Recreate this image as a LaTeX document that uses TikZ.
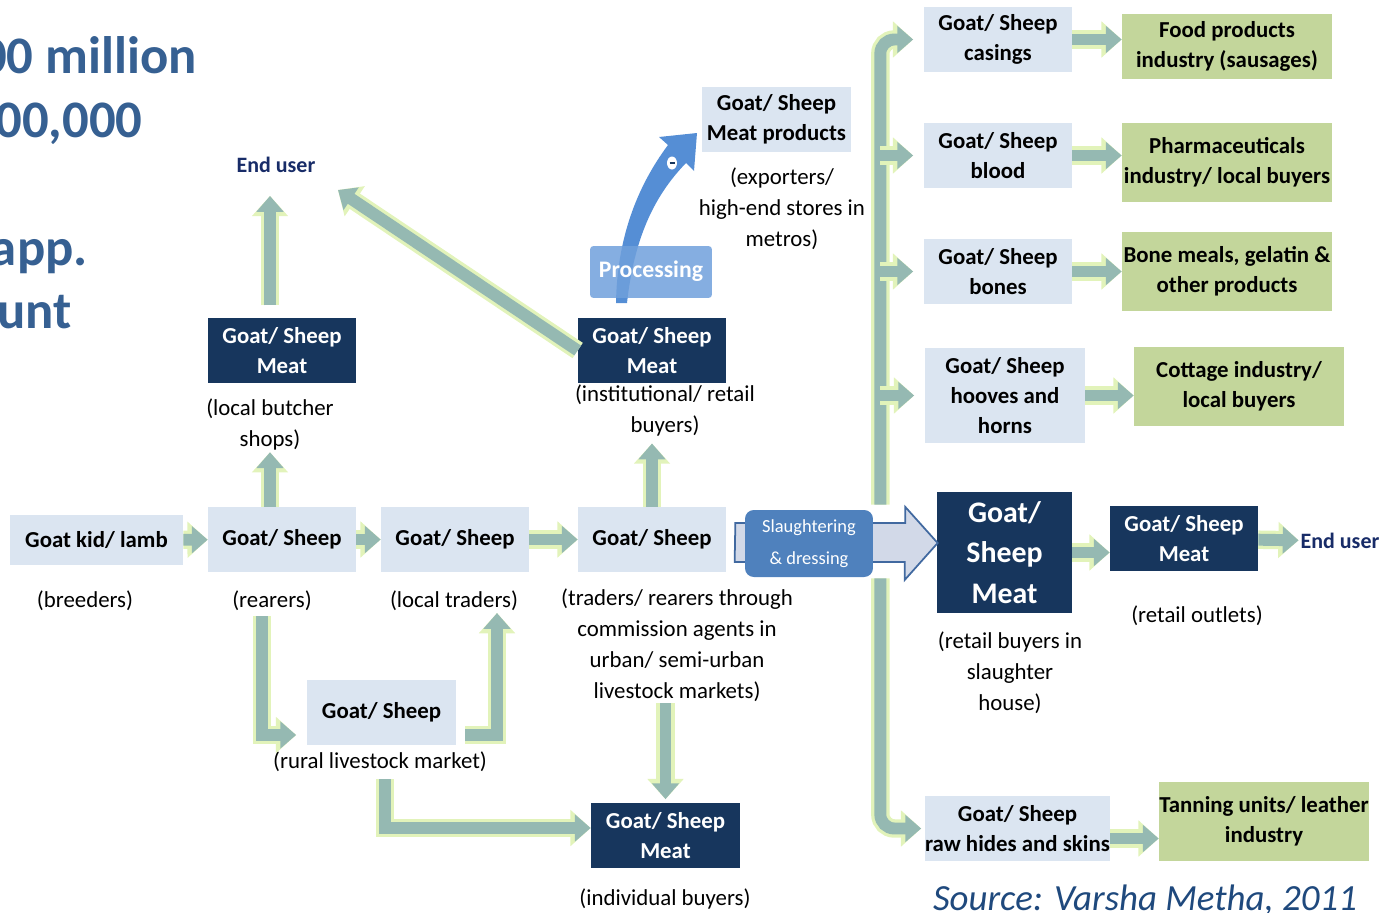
\documentclass[tikz,border=0pt]{standalone}
\usepackage{fontspec}
\setmainfont{Carlito}
\usepackage{tikz}
\usetikzlibrary{arrows.meta, calc, positioning}

\definecolor{boxlight}{RGB}{219,229,241}
\definecolor{boxdark}{RGB}{23,54,93}
\definecolor{boxgreen}{RGB}{195,214,155}
\definecolor{flowteal}{RGB}{149,185,178}
\definecolor{flowglow}{RGB}{226,243,186}
\definecolor{procblue}{RGB}{85,142,213}
\definecolor{proclight}{RGB}{112,160,220}
\definecolor{slaughblue}{RGB}{79,129,189}
\definecolor{blockfill}{RGB}{210,217,232}
\definecolor{blockline}{RGB}{65,105,160}
\definecolor{usernavy}{RGB}{24,44,104}
\definecolor{figblue}{RGB}{54,96,146}
\definecolor{srcblue}{RGB}{31,73,125}

\newcommand{\boxfont}{\fontsize{13pt}{17pt}\selectfont\bfseries}
\newcommand{\notefont}{\fontsize{13pt}{17.6pt}\selectfont}

\tikzstyle{lightbox} = [
	rectangle,
	fill=boxlight,
	align=center,
	inner sep=0pt,
	font=\boxfont,
	minimum width=2.96cm,
	minimum height=1.3cm
]
\tikzstyle{darkbox} = [lightbox, fill=boxdark, text=white]
\tikzstyle{greenbox} = [lightbox, fill=boxgreen, minimum width=4.2cm, minimum height=1.58cm]
\tikzstyle{note} = [align=center, inner sep=1pt, font=\notefont]
\tikzstyle{enduser} = [inner sep=1pt, text=usernavy, font=\fontsize{12.5pt}{15pt}\selectfont\bfseries]
\tikzstyle{bignum} = [anchor=base east, inner sep=0pt, text=figblue, font=\fontsize{30pt}{36pt}\selectfont\bfseries]
\tikzstyle{bigarrow} = [fill=blockfill, draw=blockline, line width=1pt, line join=miter]
\tikzstyle{arrow} = [
	draw=flowteal,
	line width=6.8pt,
	-{Triangle[width=15pt,length=9pt]},
	preaction={draw=flowglow, line width=10.5pt, -{Triangle[width=20pt,length=11.5pt]}}
]

\begin{document}
\begin{tikzpicture}[x=0.02cm, y=-0.02cm]
            \useasboundingbox (0,0) rectangle (1387,913);
            \clip (0,0) rectangle (1387,913);
            % slide text left of the chart
            \node (fig1) [bignum] at (197,73) {00 million};
            \node (fig2) [bignum] at (143,137) {00,000};
            \node (fig3) [bignum] at (88,265) {app.};
            \node (fig4) [bignum] at (72,328) {unt};
            % live animal chain
            \node (kid) [lightbox, minimum width=3.46cm, minimum height=1cm] at (96.5,540) {Goat kid/ lamb};
            \node (rear) [lightbox] at (282,539.5) {Goat/ Sheep};
            \node (local) [lightbox] at (455,539.5) {Goat/ Sheep};
            \node (trad) [lightbox] at (652,539.5) {Goat/ Sheep};
            \node (rural) [lightbox, minimum width=2.98cm] at (381.5,712.5) {Goat/ Sheep};
            \node (kidlbl) [note] at (85,601) {(breeders)};
            \node (rearlbl) [note] at (272,601) {(rearers)};
            \node (locallbl) [note] at (454,601) {(local traders)};
            \node (tradlbl) [note] at (677,645) {(traders/ rearers through\\commission agents in\\urban/ semi-urban\\livestock markets)};
            \node (rurallbl) [note] at (380,762) {(rural livestock market)};
            % meat buyers
            \node (butch) [darkbox] at (282,350.5) {Goat/ Sheep\\Meat};
            \node (inst) [darkbox] at (652,350.5) {Goat/ Sheep\\Meat};
            \node (indiv) [darkbox, minimum width=2.98cm] at (665.5,835.5) {Goat/ Sheep\\Meat};
            \node (prod) [lightbox, minimum width=2.98cm] at (776.5,119.5) {Goat/ Sheep\\Meat products};
            \node (butchlbl) [note] at (270,424.5) {(local butcher\\shops)};
            \node (instlbl) [note] at (665,410.5) {(institutional/ retail\\buyers)};
            \node (indivlbl) [note] at (665,899) {(individual buyers)};
            \node (prodlbl) [note] at (782,208.5) {(exporters/\\high-end stores in\\metros)};
            \node (enduser1) [enduser] at (276,165) {End user};
            \coordinate (eu1tip) at (338,190);
            % processing
            \fill [procblue] (616,303) .. controls (617,240) and (636,188) .. (668,145) -- (659,137) -- (697,133)
                -- (694,171) -- (686,163) .. controls (653,197) and (634,240) .. (627,303) -- cycle;
            \fill [white] (672,163) ellipse [x radius=0.1cm, y radius=0.13cm];
            \draw [boxdark, line width=1pt] (669.5,163) -- (674.5,163);
            \node (proc) [rectangle, rounded corners=2pt, fill=proclight, fill opacity=0.85, text opacity=1, text=white,
                font=\fontsize{13.5pt}{17pt}\selectfont\bfseries, minimum width=2.44cm, minimum height=1.04cm] at (651,272) {\raisebox{3pt}{Processing}};
            % by-products
            \node (casings) [lightbox] at (998,39.5) {Goat/ Sheep\\casings};
            \node (blood) [lightbox] at (998,155.5) {Goat/ Sheep\\blood};
            \node (bones) [lightbox] at (998,271.5) {Goat/ Sheep\\bones};
            \node (hooves) [lightbox, minimum width=3.2cm, minimum height=1.9cm] at (1005,395.5) {Goat/ Sheep\\hooves and\\horns};
            \node (hides) [lightbox, minimum width=3.7cm] at (1017.5,828.5) {Goat/ Sheep\\raw hides and skins};
            \node (food) [greenbox, minimum height=1.3cm] at (1227,46.5) {Food products\\industry (sausages)};
            \node (pharma) [greenbox] at (1227,162.5) {Pharmaceuticals\\industry/ local buyers};
            \node (bonemeal) [greenbox] at (1227,271.5) {Bone meals, gelatin \&\\other products};
            \node (cottage) [greenbox] at (1239,386.5) {Cottage industry/\\local buyers};
            \node (tanning) [greenbox] at (1264,821.5) {Tanning units/ leather\\industry};
            % slaughter house
            \node (bigmeat) [darkbox, font=\fontsize{17pt}{23pt}\selectfont\bfseries, minimum width=2.7cm, minimum height=2.42cm] at (1004.5,552.5) {Goat/\\Sheep\\Meat};
            \node (retail) [darkbox] at (1184,538.5) {Goat/ Sheep\\Meat};
            \node (bigmeatlbl) [note] at (1010,672.5) {(retail buyers in\\slaughter\\house)};
            \node (retaillbl) [note] at (1197,616) {(retail outlets)};
            \node (enduser2) [enduser] at (1340,541) {End user};
            \draw [bigarrow] ($(trad.east)+(9,-16.5)$) -- ++(170,0) -- ++(0,-16) -- ($(bigmeat.west)+(1,-9.5)$)
                -- ++(-33,37) -- ++(0,-18) -- ++(-170,0) -- cycle;
            \node (slaughter) [rectangle, rounded corners=5pt, fill=slaughblue, text=white, align=center,
                font=\fontsize{10.5pt}{18.5pt}\selectfont, minimum width=2.56cm, minimum height=1.34cm] at (809,543.5) {Slaughtering\\\& dressing};
            \coordinate (trunktop) at ($(slaughter.north east)+(7,-5)$);
            \coordinate (trunkbot) at ($(slaughter.south east)+(7,1)$);
            \coordinate (hidesout) at ($(hides.east)+(0,10)$);
            \node (source) [anchor=base, text=srcblue, font=\fontsize{21pt}{25pt}\selectfont\itshape] at (1145,910) {Source: Varsha Metha, 2011};
            % flows
            \draw [arrow] (kid) -- (rear);
            \draw [arrow] (rear) -- (local);
            \draw [arrow] (local) -- (trad);
            \draw [arrow] (rear.north -| butchlbl) -- (butchlbl);
            \draw [arrow, shorten <=7pt, shorten >=12pt] (butch.north -| butchlbl) -- (enduser1.south -| butchlbl);
            \draw [arrow] (inst.west) -- (eu1tip);
            \draw [arrow, shorten >=3pt] (trad.north) -- (trad.north |- instlbl.south);
            \draw [arrow, shorten >=6pt] ($(rearlbl.south)+(-10,3)$) |- ($(rural.west)+(0,22.5)$);
            \draw [arrow] ($(rural.east)+(9,22.5)$) -| ($(locallbl.south)+(43,0)$);
            \draw [arrow] ($(rurallbl.south)+(5,5)$) |- ($(indiv.west)+(0,-7.5)$);
            \draw [arrow, shorten >=2pt] (tradlbl.south -| indiv.north) -- (indiv.north);
            \draw [arrow, rounded corners=8pt, shorten >=6pt] (trunktop) |- (casings.west);
            \draw [arrow, shorten >=6pt] (trunktop |- blood.west) -- (blood.west);
            \draw [arrow, shorten >=6pt] (trunktop |- bones.west) -- (bones.west);
            \draw [arrow, shorten >=6pt] (trunktop |- hooves.west) -- (hooves.west);
            \draw [arrow, rounded corners=8pt, shorten >=2pt] (trunkbot) |- (hides.west);
            \draw [arrow] (casings.east) -- (casings.east -| food.west);
            \draw [arrow] (blood.east) -- (blood.east -| pharma.west);
            \draw [arrow] (bones.east) -- (bones.east -| bonemeal.west);
            \draw [arrow] (hooves.east) -- (hooves.east -| cottage.west);
            \draw [arrow] (hidesout) -- (hidesout -| tanning.west);
            \draw [arrow] (bigmeat.east) -- (bigmeat.east -| retail.west);
            \draw [arrow] (retail) -- (enduser2);
          \end{tikzpicture}
\end{document}
